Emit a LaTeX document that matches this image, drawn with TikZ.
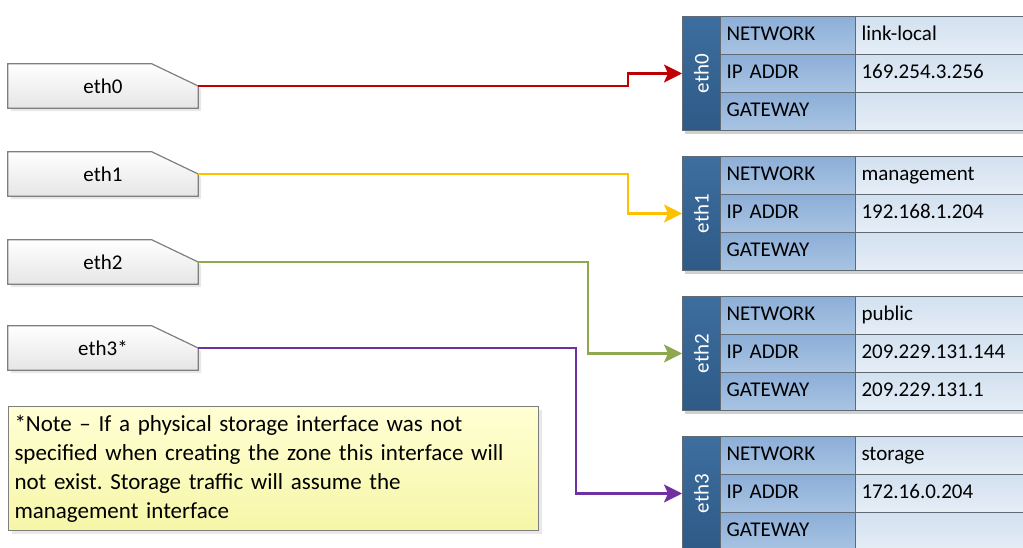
\documentclass[tikz,border=0pt]{standalone}
\usepackage{fontspec}
\setmainfont{Carlito}
\frenchspacing
\usetikzlibrary{arrows.meta,shadows,backgrounds}

\definecolor{wirered}{HTML}{C00000}
\definecolor{wireyellow}{HTML}{FFC000}
\definecolor{wiregreen}{HTML}{8DA84E}
\definecolor{wirepurple}{HTML}{7030A0}
\definecolor{nictop}{HTML}{3D6E9F}
\definecolor{nicbot}{HTML}{2E5A86}
\definecolor{keytop}{HTML}{8CAED7}
\definecolor{keybot}{HTML}{A9C4E3}
\definecolor{valtop}{HTML}{D2E0EF}
\definecolor{valbot}{HTML}{E6EEF7}
\definecolor{cellline}{HTML}{5F6A74}
\definecolor{boxline}{HTML}{7F7F7F}
\definecolor{notetop}{HTML}{FFFFD4}
\definecolor{notebot}{HTML}{F6F6A8}

\begin{document}
\begin{tikzpicture}[x=1pt,y=-1pt]
            \useasboundingbox (0,0) rectangle (1023,548);
            \tikzstyle{every node}=[font=\fontsize{21}{29}\selectfont, inner sep=0pt, text=black]
            \tikzstyle{iface}=[minimum width=190pt, minimum height=44pt]
            \tikzstyle{ifbox}=[draw=boxline, line width=1.2pt, top color=white, bottom color=black!10, drop shadow={shadow xshift=3pt, shadow yshift=-3pt, opacity=0.18}]
            \tikzstyle{nic}=[draw=cellline, line width=1pt, top color=nictop, bottom color=nicbot, minimum width=38pt, minimum height=114pt, anchor=north west]
            \tikzstyle{key}=[draw=cellline, line width=1pt, top color=keytop, bottom color=keybot, minimum height=38pt, text width=123pt, inner xsep=6pt, text height=14pt, text depth=4pt, align=left, anchor=north west]
            \tikzstyle{val}=[key, top color=valtop, bottom color=valbot, text width=168pt]
            \tikzstyle{note}=[draw=boxline, line width=1pt, top color=notetop, bottom color=notebot, font=\fontsize{23}{29}\selectfont, text width=518pt, inner xsep=6pt, minimum height=124pt, align=left, anchor=north west, drop shadow={shadow xshift=3pt, shadow yshift=-3pt, opacity=0.18}]
            \tikzstyle{wire}=[line width=2.2pt, -{Stealth[length=18pt, width=18pt, inset=4pt]}]
            \tikzstyle{tshadow}=[fill=black, opacity=0.18]

            % interfaces
            \node[iface] (if0) at (103,86) {eth0};
            \node[iface] (if1) at (103,174) {eth1};
            \node[iface] (if2) at (103,262) {eth2};
            \node[iface] (if3) at (103,348) {eth3*};

            % eth0 table
            \node[nic] (t0) at (682,16) {\color{white}\rotatebox{90}{eth0}};
            \node[key] (k00) at (720,16) {NETWORK};
            \node[key] (k01) at (720,54) {IP ADDR};
            \node[key] (k02) at (720,92) {GATEWAY};
            \node[val] (v00) at (855,16) {link-local};
            \node[val] (v01) at (855,54) {169.254.3.256};
            \node[val] (v02) at (855,92) {};

            % eth1 table
            \node[nic] (t1) at (682,156) {\color{white}\rotatebox{90}{eth1}};
            \node[key] (k10) at (720,156) {NETWORK};
            \node[key] (k11) at (720,194) {IP ADDR};
            \node[key] (k12) at (720,232) {GATEWAY};
            \node[val] (v10) at (855,156) {management};
            \node[val] (v11) at (855,194) {192.168.1.204};
            \node[val] (v12) at (855,232) {};

            % eth2 table
            \node[nic] (t2) at (682,296) {\color{white}\rotatebox{90}{eth2}};
            \node[key] (k20) at (720,296) {NETWORK};
            \node[key] (k21) at (720,334) {IP ADDR};
            \node[key] (k22) at (720,372) {GATEWAY};
            \node[val] (v20) at (855,296) {public};
            \node[val] (v21) at (855,334) {209.229.131.144};
            \node[val] (v22) at (855,372) {209.229.131.1};

            % eth3 table
            \node[nic] (t3) at (682,436) {\color{white}\rotatebox{90}{eth3}};
            \node[key] (k30) at (720,436) {NETWORK};
            \node[key] (k31) at (720,474) {IP ADDR};
            \node[key] (k32) at (720,512) {GATEWAY};
            \node[val] (v30) at (855,436) {storage};
            \node[val] (v31) at (855,474) {172.16.0.204};
            \node[val] (v32) at (855,512) {};

            \node[note] (note) at (8,406) {*Note -- If a physical storage interface was not\\
                specified when creating the zone this interface will\\
                not exist. Storage traffic will assume the\\
                management interface};

            \begin{scope}[on background layer]
                \draw[ifbox] (if0.north west) -- ++(144,0) -- (if0.east) -- (if0.south east) -- (if0.south west) -- cycle;
                \draw[ifbox] (if1.north west) -- ++(144,0) -- (if1.east) -- (if1.south east) -- (if1.south west) -- cycle;
                \draw[ifbox] (if2.north west) -- ++(144,0) -- (if2.east) -- (if2.south east) -- (if2.south west) -- cycle;
                \draw[ifbox] (if3.north west) -- ++(144,0) -- (if3.east) -- (if3.south east) -- (if3.south west) -- cycle;
                \fill[tshadow] ([shift={(3,3)}]t0.north west) rectangle ([shift={(3,3)}]v02.south east);
                \fill[tshadow] ([shift={(3,3)}]t1.north west) rectangle ([shift={(3,3)}]v12.south east);
                \fill[tshadow] ([shift={(3,3)}]t2.north west) rectangle ([shift={(3,3)}]v22.south east);
                \fill[tshadow] ([shift={(3,3)}]t3.north west) rectangle ([shift={(3,3)}]v32.south east);
            \end{scope}

            \draw[wire, wirered] (if0.east) -- ++(430,0) |- (t0.west);
            \draw[wire, wireyellow] (if1.east) -- ++(430,0) |- (t1.west);
            \draw[wire, wiregreen] (if2.east) -- ++(390,0) |- (t2.west);
            \draw[wire, wirepurple] (if3.east) -- ++(378,0) |- (t3.west);
\end{tikzpicture}
\end{document}
